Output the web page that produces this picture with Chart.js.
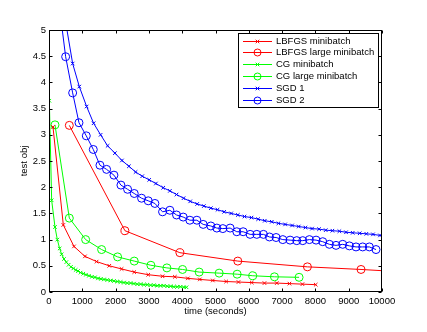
<!DOCTYPE html>
<html>
<head>
<meta charset="utf-8">
<script src="https://cdn.jsdelivr.net/npm/chart.js@4.4.1/dist/chart.umd.min.js"></script>
<style>
  html, body { margin: 0; padding: 0; background: #fff; }
</style>
</head>
<body>
<canvas id="objChart" width="427" height="332"></canvas>
<script>
// --- Daten ---
const lbfgsMiniTime = [120, 430, 750, 1080, 1430, 1810, 2180, 2560, 2980, 3410, 3780, 4170, 4530, 4920, 5320, 5690, 6090, 6470, 6840, 7220, 7610, 8010];
const lbfgsMiniObj  = [3.15, 1.28, 0.87, 0.68, 0.58, 0.50, 0.44, 0.38, 0.33, 0.30, 0.29, 0.26, 0.24, 0.22, 0.20, 0.19, 0.18, 0.17, 0.17, 0.16, 0.15, 0.14];

const lbfgsLargeTime = [610, 2280, 3930, 5670, 7760, 9370, 11000];
const lbfgsLargeObj  = [3.18, 1.17, 0.75, 0.59, 0.48, 0.43, 0.37];

const cgMiniTime = [10, 80, 180, 250, 320, 380, 450, 520, 590, 660, 730, 800, 870, 950, 1030, 1110, 1200, 1290, 1380, 1470, 1560, 1650, 1750, 1850, 1950, 2050, 2150, 2250, 2350, 2450, 2550, 2650, 2750, 2850, 2950, 3050, 3150, 3250, 3350, 3450, 3550, 3650, 3750, 3850, 3950, 4050, 4130];
const cgMiniObj  = [3.65, 1.75, 1.24, 1.00, 0.83, 0.72, 0.63, 0.57, 0.52, 0.48, 0.45, 0.42, 0.40, 0.37, 0.35, 0.33, 0.31, 0.29, 0.28, 0.26, 0.25, 0.24, 0.23, 0.22, 0.21, 0.20, 0.19, 0.18, 0.17, 0.17, 0.16, 0.15, 0.15, 0.14, 0.14, 0.13, 0.13, 0.12, 0.12, 0.12, 0.11, 0.11, 0.10, 0.10, 0.10, 0.09, 0.09];

const cgLargeTime = [180, 610, 1100, 1580, 2060, 2560, 3060, 3540, 4010, 4510, 5110, 5650, 6120, 6770, 7510];
const cgLargeObj  = [3.19, 1.41, 1.00, 0.81, 0.67, 0.59, 0.51, 0.46, 0.43, 0.38, 0.36, 0.34, 0.31, 0.29, 0.28];

const sgd1Time = [500, 710, 910, 1130, 1340, 1550, 1760, 1980, 2190, 2400, 2600, 2800, 3010, 3210, 3430, 3630, 3830, 4040, 4240, 4450, 4650, 4860, 5060, 5260, 5470, 5670, 5870, 6080, 6280, 6480, 6690, 6890, 7090, 7300, 7500, 7700, 7900, 8110, 8310, 8510, 8720, 8920, 9120, 9330, 9530, 9730, 9940, 10150];
const sgd1Obj  = [5.15, 4.36, 3.92, 3.54, 3.22, 3.00, 2.79, 2.65, 2.51, 2.40, 2.29, 2.21, 2.14, 2.07, 1.99, 1.93, 1.86, 1.79, 1.73, 1.68, 1.64, 1.60, 1.57, 1.53, 1.50, 1.47, 1.44, 1.42, 1.39, 1.36, 1.34, 1.31, 1.29, 1.27, 1.25, 1.23, 1.21, 1.20, 1.18, 1.17, 1.16, 1.14, 1.13, 1.12, 1.11, 1.10, 1.08, 1.07];

const sgd2Time = [300, 500, 710, 900, 1120, 1330, 1530, 1730, 1950, 2160, 2360, 2560, 2780, 2980, 3180, 3410, 3630, 3830, 4030, 4230, 4440, 4630, 4860, 5040, 5220, 5440, 5640, 5830, 6040, 6240, 6440, 6620, 6820, 7020, 7240, 7440, 7620, 7820, 8020, 8220, 8420, 8620, 8820, 9020, 9220, 9420, 9620, 9820];
const sgd2Obj  = [5.50, 4.49, 3.80, 3.23, 2.98, 2.72, 2.42, 2.34, 2.23, 2.04, 1.96, 1.88, 1.79, 1.74, 1.69, 1.53, 1.56, 1.47, 1.43, 1.37, 1.37, 1.29, 1.26, 1.22, 1.21, 1.22, 1.15, 1.15, 1.10, 1.10, 1.10, 1.05, 1.04, 1.00, 0.99, 0.98, 0.98, 1.00, 0.99, 0.96, 0.91, 0.89, 0.91, 0.88, 0.86, 0.86, 0.86, 0.81];

const xTicks = [0, 1000, 2000, 3000, 4000, 5000, 6000, 7000, 8000, 9000, 10000];
const yTicks = [0, 0.5, 1, 1.5, 2, 2.5, 3, 3.5, 4, 4.5, 5];

const FONT = "'Liberation Sans', Arial, sans-serif";

function pts(t, v) {
    return t.map((x, i) => ({ x: x, y: v[i] }));
}

function series(label, t, v, color, style) {
    return {
        label: label,
        data: pts(t, v),
        borderColor: color,
        backgroundColor: 'rgba(0,0,0,0)',
        borderWidth: 1,
        pointStyle: style,
        pointRadius: style === 'circle' ? 4 : 2.5,
        pointBorderColor: color,
        pointBackgroundColor: 'rgba(0,0,0,0)',
        pointBorderWidth: 1,
        tension: 0
    };
}

// --- Achsenrahmen mit Ticks nach innen (MATLAB-Stil) ---
const boxAxes = {
    id: 'boxAxes',
    afterDatasetsDraw(chart) {
        const { ctx, chartArea: a, scales } = chart;
        const L = Math.round(a.left) + 0.5, R = Math.round(a.right) - 0.5;
        const T = Math.round(a.top) + 0.5, B = Math.round(a.bottom) - 0.5;
        const len = 3;
        ctx.save();
        ctx.strokeStyle = '#000';
        ctx.lineWidth = 1;
        ctx.strokeRect(L, T, R - L, B - T);
        ctx.beginPath();
        xTicks.forEach(v => {
            const px = Math.round(scales.x.getPixelForValue(v)) + 0.5;
            ctx.moveTo(px, B); ctx.lineTo(px, B - len);
            ctx.moveTo(px, T); ctx.lineTo(px, T + len);
        });
        yTicks.forEach(v => {
            const py = Math.round(scales.y.getPixelForValue(v)) + 0.5;
            ctx.moveTo(L, py); ctx.lineTo(L + len, py);
            ctx.moveTo(R, py); ctx.lineTo(R - len, py);
        });
        ctx.stroke();
        ctx.restore();
    }
};

// --- Legende ---
const legendBox = {
    id: 'legendBox',
    afterDraw(chart) {
        const ctx = chart.ctx;
        const x0 = 238.5, y0 = 33.5, w = 140, h = 74;
        ctx.save();
        ctx.fillStyle = '#fff';
        ctx.fillRect(x0, y0, w, h);
        ctx.strokeStyle = '#000';
        ctx.lineWidth = 1;
        ctx.strokeRect(x0, y0, w, h);
        chart.data.datasets.forEach((ds, i) => {
            const y = Math.round(y0 + 7 + i * 11.9) + 0.5;
            ctx.strokeStyle = ds.borderColor;
            ctx.beginPath();
            ctx.moveTo(243, y);
            ctx.lineTo(272, y);
            ctx.stroke();
            ctx.fillStyle = 'rgba(0,0,0,0)';
            Chart.helpers.drawPoint(ctx, {
                pointStyle: ds.pointStyle,
                radius: ds.pointStyle === 'circle' ? 3.5 : 2.5,
                borderWidth: 1,
                rotation: 0
            }, 257.5, y);
            ctx.fillStyle = '#000';
            ctx.font = '9.5px ' + FONT;
            ctx.textBaseline = 'middle';
            ctx.textAlign = 'left';
            ctx.fillText(ds.label, 276, y);
        });
        ctx.restore();
    }
};

new Chart(document.getElementById('objChart'), {
    type: 'line',
    data: {
        datasets: [
            series('LBFGS minibatch', lbfgsMiniTime, lbfgsMiniObj, '#ff0000', 'crossRot'),
            series('LBFGS large minibatch', lbfgsLargeTime, lbfgsLargeObj, '#ff0000', 'circle'),
            series('CG minibatch', cgMiniTime, cgMiniObj, '#00ff00', 'crossRot'),
            series('CG large minibatch', cgLargeTime, cgLargeObj, '#00ff00', 'circle'),
            series('SGD 1', sgd1Time, sgd1Obj, '#0000ff', 'crossRot'),
            series('SGD 2', sgd2Time, sgd2Obj, '#0000ff', 'circle')
        ]
    },
    options: {
        responsive: false,
        animation: false,
        devicePixelRatio: 1,
        layout: { padding: { top: 30, right: 45, left: 0, bottom: 0 } },
        plugins: {
            legend: { display: false },
            tooltip: { enabled: false }
        },
        scales: {
            x: {
                type: 'linear',
                min: 0, max: 10000,
                afterBuildTicks: s => { s.ticks = xTicks.map(v => ({ value: v })); },
                afterFit: s => { s.height = 40; },
                grid: { display: false, drawTicks: false, tickLength: 0 },
                border: { display: false },
                ticks: {
                    color: '#000', padding: 4, maxRotation: 0, autoSkip: false,
                    font: { family: FONT, size: 9.5 },
                    callback: v => String(v)
                },
                title: {
                    display: true, text: 'time (seconds)', color: '#000',
                    font: { family: FONT, size: 9.5 },
                    padding: { top: 0, bottom: 15 }
                }
            },
            y: {
                type: 'linear',
                min: 0, max: 5,
                afterBuildTicks: s => { s.ticks = yTicks.map(v => ({ value: v })); },
                afterFit: s => { s.width = 49; },
                grid: { display: false, drawTicks: false, tickLength: 0 },
                border: { display: false },
                ticks: {
                    color: '#000', padding: 3, autoSkip: false,
                    font: { family: FONT, size: 9.5 },
                    callback: v => String(v)
                },
                title: {
                    display: true, text: 'test obj', color: '#000',
                    font: { family: FONT, size: 9.5 },
                    padding: { top: 19, bottom: 0 }
                }
            }
        }
    },
    plugins: [boxAxes, legendBox]
});
</script>
</body>
</html>
